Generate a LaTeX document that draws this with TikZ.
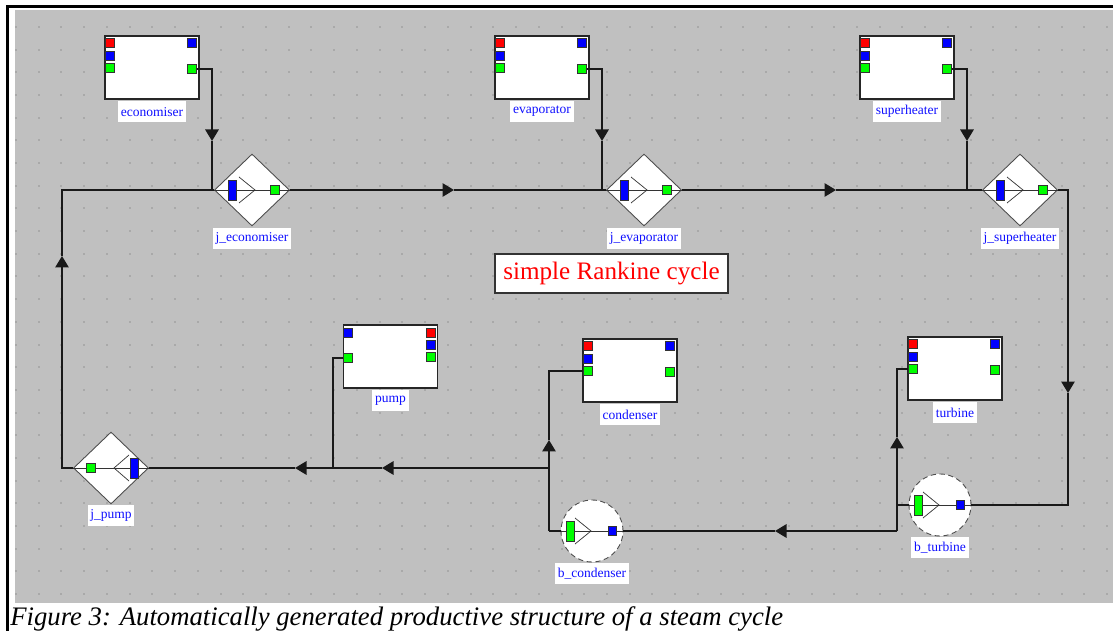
\documentclass[tikz,border=0pt]{standalone}
\usepackage{fontspec}
\setmainfont{Liberation Serif}
\usetikzlibrary{shapes.geometric,arrows.meta,positioning,calc}
\definecolor{canvas}{HTML}{C0C0C0}
\definecolor{dotgray}{HTML}{A9A9A9}
\definecolor{pred}{HTML}{FF0000}
\definecolor{pblue}{HTML}{0000FF}
\definecolor{pgreen}{HTML}{00FF00}
\definecolor{tagblue}{HTML}{1010FF}
\tikzset{
  block/.style={draw=black!85, fill=white, line width=0.03cm,
    minimum width=1.88cm, minimum height=1.26cm, inner sep=0pt},
  tag/.style={fill=white, text=tagblue, font=\fontsize{7.7}{8}\selectfont,
    inner sep=1.5pt, minimum height=0.42cm},
  port/.style={draw=black!80, line width=0.45pt, minimum size=0.165cm, inner sep=0pt},
  bar/.style={draw=black!80, line width=0.45pt, minimum width=0.15cm,
    minimum height=0.4cm, inner sep=0pt},
  junction/.style={diamond, draw=black!70, fill=white, line width=0.5pt,
    minimum width=1.5cm, minimum height=1.44cm, inner sep=0pt},
  bubble/.style={circle, draw=black!70, densely dashed, fill=white,
    line width=0.5pt, minimum size=1.24cm, inner sep=0pt},
  inner/.style={draw=black!80, line width=0.4pt},
  wire/.style={draw=black!90, line width=0.03cm},
  flow/.style={wire, -{Triangle[length=0.23cm,width=0.27cm]}},
  titlebox/.style={draw=black!80, line width=0.04cm, fill=white, text=red,
    font=\fontsize{14.3}{16}\selectfont, minimum width=4.66cm, minimum height=0.78cm}
}

\begin{document}
\begin{tikzpicture}[x=0.02cm,y=-0.02cm]
\useasboundingbox (0,0) rectangle (1113,631);
% canvas and frame
\fill[white] (0,0) rectangle (1113,631);
\fill[canvas] (15,10) rectangle (1113,603);
\foreach \i in {0,...,48}
  \foreach \j in {0,...,25}
    \fill[dotgray] ({15+22.73*\i},{26+22.68*\j}) rectangle ++(2,2);
\draw[line width=0.05cm] (7.5,631) -- (7.5,6.5) -- (1113,6.5);

% blocks
\foreach \name/\bx/\by in {economiser/105/36, evaporator/495/36,
    superheater/860/36, condenser/583/339, turbine/908/337} {
  \node[block] (\name) at (\bx+47,\by+31.5) {};
  \node[tag, below=0.02cm of \name] (\name-tag) {\name};
  \node[port,fill=pred] (\name-in1) at (\bx+5,\by+7) {};
  \node[port,fill=pblue] (\name-in2) at (\bx+5,\by+20) {};
  \node[port,fill=pgreen] (\name-in3) at (\bx+5,\by+32) {};
  \node[port,fill=pblue] (\name-out1) at (\bx+87,\by+7) {};
  \node[port,fill=pgreen] (\name-out2) at (\bx+87,\by+33) {};
}
\node[block] (pump) at (390.5,356.5) {};
\node[tag, below=0.02cm of pump] (pump-tag) {pump};
\node[port,fill=pblue] (pump-in1) at (348,333) {};
\node[port,fill=pgreen] (pump-in2) at (348,358) {};
\node[port,fill=pred] (pump-out1) at (431,333) {};
\node[port,fill=pblue] (pump-out2) at (431,345) {};
\node[port,fill=pgreen] (pump-out3) at (431,357) {};

% junctions
\foreach \jn/\jx/\jlab in {jecon/252/j\_economiser, jevap/644/j\_evaporator,
    jsuper/1020/j\_superheater} {
  \node[junction] (\jn) at (\jx,190) {};
  \draw[inner] (\jn.west) -- (\jn.east);
  \draw[inner] ($(\jn)+(-13,-13)$) -- ($(\jn)+(3,0)$) -- ($(\jn)+(-13,13)$);
  \node[bar,fill=pblue] (\jn-bar) at ($(\jn)+(-19.5,0)$) {};
  \node[port,fill=pgreen] (\jn-out) at ($(\jn)+(23,0)$) {};
  \node[tag, below=0.02cm of \jn] (\jn-tag) {\jlab};
}
\node[junction] (jpump) at (111,468) {};
\draw[inner] (jpump.west) -- (jpump.east);
\draw[inner] ($(jpump)+(18,-13)$) -- ($(jpump)+(3,0)$) -- ($(jpump)+(18,13)$);
\node[bar,fill=pblue] (jpump-bar) at ($(jpump)+(23.5,0)$) {};
\node[port,fill=pgreen] (jpump-out) at ($(jpump)+(-20,0)$) {};
\node[tag, below=0pt of jpump] (jpump-tag) {j\_pump};

% branches
\foreach \bn/\bx/\by/\blab in {bcond/592/531/b\_condenser, bturb/940/505/b\_turbine} {
  \node[bubble] (\bn) at (\bx,\by) {};
  \draw[inner] (\bn.west) -- (\bn.east);
  \draw[inner] ($(\bn)+(-17,-13)$) -- ($(\bn)+(-1,0)$) -- ($(\bn)+(-17,13)$);
  \node[bar,fill=pgreen,minimum width=0.17cm] (\bn-bar) at ($(\bn)+(-21.5,0)$) {};
  \node[port,fill=pblue] (\bn-out) at ($(\bn)+(20.5,0)$) {};
  \node[tag, below=0pt of \bn] (\bn-tag) {\blab};
}

\node[titlebox] (title) at (611.5,273.5) {simple Rankine cycle};

% wire points
\coordinate (econ-arr) at (212,141);
\coordinate (econ-drop) at (212,190);
\coordinate (evap-arr) at (602,141);
\coordinate (evap-drop) at (602,190);
\coordinate (super-arr) at (967,141);
\coordinate (super-drop) at (967,190);
\coordinate (arr-left) at (62,256);
\coordinate (arr-top1) at (454,190);
\coordinate (arr-top2) at (836,190);
\coordinate (arr-right) at (1068,393);
\coordinate (tjoin) at (897,505);
\coordinate (tcorner) at (897,531);
\coordinate (arr-turb) at (897,437);
\coordinate (arr-bot) at (775,531);
\coordinate (ccorner) at (549,531);
\coordinate (arr-cond) at (549,440);
\coordinate (cjoin) at (549,468);
\coordinate (arr-b1) at (382,468);
\coordinate (arr-b2) at (295,468);
\coordinate (pjoin) at (333,468);

% wires
\draw[flow] (economiser-out2) -| (econ-arr);
\draw[wire] (econ-arr) -- (econ-drop);
\draw[flow] (evaporator-out2) -| (evap-arr);
\draw[wire] (evap-arr) -- (evap-drop);
\draw[flow] (superheater-out2) -| (super-arr);
\draw[wire] (super-arr) -- (super-drop);

\draw[flow] (jpump.west) -| (arr-left);
\draw[wire] (arr-left) |- (jecon.west);
\draw[flow] (jecon.east) -- (arr-top1);
\draw[wire] (arr-top1) -- (jevap.west);
\draw[flow] (jevap.east) -- (arr-top2);
\draw[wire] (arr-top2) -- (jsuper.west);
\draw[flow] (jsuper.east) -| (arr-right);
\draw[wire] (arr-right) |- (bturb.east);

\draw[wire] (bturb.west) -- (tjoin);
\draw[flow] (tcorner) -- (arr-turb);
\draw[wire] (arr-turb) |- (turbine-in3);
\draw[flow] (tcorner) -- (arr-bot);
\draw[wire] (arr-bot) -- (bcond.east);

\draw[wire] (bcond.west) -- (ccorner);
\draw[flow] (ccorner) -- (arr-cond);
\draw[wire] (arr-cond) |- (condenser-in3);
\draw[flow] (cjoin) -- (arr-b1);
\draw[flow] (arr-b1) -- (arr-b2);
\draw[wire] (arr-b2) -- (jpump.east);
\draw[wire] (pump-in2) -| (pjoin);

\node[anchor=base west, inner sep=0pt, font=\fontsize{15.2}{17}\selectfont\itshape]
  (caption) at (10,625) {Figure 3: Automatically generated productive structure of a steam cycle};
\end{tikzpicture}
\end{document}
